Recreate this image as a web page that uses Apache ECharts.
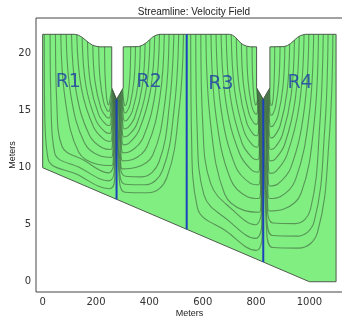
<!DOCTYPE html>
<html><head><meta charset="utf-8">
<script src="https://cdn.jsdelivr.net/npm/echarts@6/dist/echarts.min.js"></script>
<style>html,body{margin:0;padding:0;background:#fff}#c{width:342px;height:317px}</style>
</head><body><div id="c"></div>
<script>
const xTicks = [0, 200, 400, 600, 800, 1000];
const yTicks = [0, 5, 10, 15, 20];

const domainOutline = [
  [0,10],[0,21.7],[120,21.7],[135,21.62],[150,21.4],[163,21.15],[175,20.92],[187,20.75],[200,20.65],[215,20.6],
  [259,20.6],[259,17.0],[277,16.0],[302,17.0],[302,20.6],
  [360,20.62],[375,20.75],[388,20.95],[400,21.2],[412,21.45],[425,21.62],[440,21.7],
  [700,21.7],[712,21.62],[722,21.45],[732,21.2],[742,20.95],[752,20.78],[765,20.66],[780,20.6],
  [802,20.6],[802,17.0],[827,16.0],[852,17.0],[852,20.6],
  [905,20.62],[918,20.72],[930,20.9],[942,21.15],[955,21.42],[968,21.6],[985,21.7],
  [1100,21.7],[1100,0],[1000,0]
];

const drainX = [277, 540, 827];
const drainTop = [16.0, 21.7, 16.0];
const drainBottom = [7.23, 4.6, 1.73];

const regionNames = ['R1', 'R2', 'R3', 'R4'];
const regionLabelX = [96, 399, 668, 965];
const regionLabelY = [17.55, 17.55, 17.3, 17.4];

const streamR1 = [
  [[6,21.7],[7,16],[20,10.8],[130,9.4],[250,8.15],[270,9.0],[276,16.06]],
  [[28,21.7],[31,15.8],[45,11.3],[140,10.0],[248,8.85],[268.4,9.7],[274.5,16.14]],
  [[48,21.7],[53,15.6],[72,11.9],[155,10.65],[246,9.55],[266.8,10.4],[273,16.22]],
  [[68,21.7],[84.6,15.95],[134.9,11.37],[204.3,10.31],[259.2,10.2],[265.2,11.0],[271.5,16.31]],
  [[88,21.7],[106,16.3],[157.5,12.14],[216.6,11.02],[257.6,10.9],[263.6,11.7],[270,16.39]],
  [[108,21.7],[125.8,16.65],[175.3,12.85],[225.2,11.73],[256,11.6],[262,12.4],[268.5,16.47]],
  [[128,21.65],[144.9,17.0],[191.2,13.55],[232.4,12.44],[254.4,12.3],[260.4,13.1],[267,16.56]],
  [[148,21.42],[162,17.21],[200.4,14.13],[234.6,13.13],[252.8,13.0],[258.8,13.75],[265.5,16.64]],
  [[168,21.05],[179.1,17.38],[209.6,14.68],[236.7,13.81],[251.2,13.7],[257.2,14.4],[264,16.72]],
  [[188,20.75],[196.3,17.55],[218.8,15.21],[238.9,14.45],[249.6,14.35],[255.6,15.0],[262.5,16.81]],
  [[210,20.62],[215.1,17.79],[229,15.71],[241.4,15.03],[248,14.95],[254,15.5],[261,16.89]],
  [[232,20.6],[234,18.05],[239.5,16.18],[244.4,15.58],[247,15.5],[252.4,16.0],[259.5,16.97]]
];

const streamR2 = [
  [[528,21.7],[512,15.2],[465,9.1],[395,7.8],[308,7.85],[288,8.8],[278,16.04]],
  [[510,21.7],[494,15.4],[450,9.8],[383,8.5],[309,8.55],[289.5,9.4],[280,16.12]],
  [[492,21.7],[476,15.7],[436,10.5],[372,9.2],[310,9.25],[291,10.1],[282,16.2]],
  [[474,21.7],[458.7,15.8],[412.4,11.1],[348.5,10.02],[298,9.9],[292,10.7],[284,16.28]],
  [[456,21.7],[439.4,16.15],[391.8,11.88],[337.4,10.72],[299.5,10.6],[293.5,11.4],[286,16.36]],
  [[438,21.69],[421.6,16.5],[375.7,12.59],[329.5,11.44],[301,11.3],[295,12.1],[288,16.44]],
  [[420,21.56],[404.3,16.78],[361.2,13.28],[323,12.14],[302.5,12.0],[296.5,12.8],[290,16.52]],
  [[402,21.24],[388.9,16.97],[353,13.84],[321,12.83],[304,12.7],[298,13.45],[292,16.6]],
  [[384,20.89],[373.5,17.15],[344.8,14.4],[319.2,13.51],[305.5,13.4],[299.5,14.1],[294,16.68]],
  [[366,20.67],[358.1,17.39],[336.5,14.98],[317.3,14.2],[307,14.1],[301,14.75],[296,16.76]],
  [[348,20.61],[342.6,17.71],[328,15.58],[315,14.89],[308,14.8],[302,15.35],[298,16.84]],
  [[330,20.6],[327.2,18.03],[319.5,16.14],[312.7,15.53],[309,15.45],[303.5,15.9],[300,16.92]]
];

const streamR3 = [
  [[555,21.7],[558,13],[580,6.5],[690,4.4],[800,2.75],[823,4.0],[826,16.04]],
  [[574,21.7],[579,13.5],[605,7.6],[700,5.3],[798,3.8],[821.5,5.0],[824,16.12]],
  [[593,21.7],[600,14],[630,8.6],[712,6.3],[797,5.0],[820,6.2],[822,16.2]],
  [[612,21.7],[629.4,13.9],[682.2,7.7],[755,6.26],[812.5,6.1],[818.5,7.0],[820,16.28]],
  [[631,21.7],[650.1,14.5],[704.8,8.96],[767.4,7.46],[811,7.3],[817,8.2],[818,16.36]],
  [[650,21.7],[669.1,15.1],[722.6,10.14],[776.3,8.67],[809.5,8.5],[815.5,9.4],[816,16.44]],
  [[669,21.7],[687.6,15.65],[738.5,11.22],[783.8,9.78],[808,9.6],[814,10.5],[814,16.52]],
  [[688,21.7],[703.9,16.2],[747.3,12.17],[785.9,10.87],[806.5,10.7],[812.5,11.5],[812,16.6]],
  [[707,21.66],[720.1,16.73],[756,13.12],[788,11.95],[805,11.8],[811,12.6],[810,16.68]],
  [[726,21.35],[736.4,17.08],[764.8,13.95],[790,12.93],[803.5,12.8],[809.5,13.55],[808,16.76]],
  [[745,20.9],[752.6,17.35],[773.5,14.75],[792.1,13.91],[802,13.8],[808,14.45],[806,16.84]],
  [[765,20.66],[769.8,17.68],[782.8,15.5],[794.3,14.79],[800.5,14.7],[806.5,15.25],[804,16.92]],
  [[785,20.6],[786.9,18.05],[792,16.18],[796.6,15.58],[799,15.5],[805,15.95],[802.5,16.98]]
];

const streamR4 = [
  [[1088,21.7],[1074,12.5],[1030,4.3],[960,2.95],[862,3.0],[840,4.3],[828,16.04]],
  [[1070,21.7],[1057,13.2],[1018,5.3],[955,4.0],[862,4.05],[841,5.3],[830,16.12]],
  [[1052,21.7],[1039,13.8],[1004,6.35],[948,5.1],[863,5.15],[842,6.4],[832,16.2]],
  [[1034,21.7],[1017.9,13.95],[969.2,7.78],[902.1,6.35],[849,6.2],[843,7.1],[834,16.28]],
  [[1016,21.7],[998.4,14.5],[947.9,8.96],[890.2,7.46],[850,7.3],[844,8.2],[836,16.36]],
  [[998,21.7],[980.4,15.05],[931.1,10.05],[881.6,8.57],[851,8.4],[845,9.3],[838,16.44]],
  [[980,21.68],[962.8,15.59],[916,11.13],[874.3,9.68],[852,9.5],[846,10.4],[840,16.52]],
  [[962,21.52],[947.4,16.06],[907.5,12.06],[872,10.76],[853,10.6],[847,11.45],[842,16.6]],
  [[944,21.19],[931.9,16.4],[899,12.89],[869.7,11.74],[854,11.6],[848,12.4],[844,16.68]],
  [[926,20.84],[916.5,16.72],[890.5,13.7],[867.4,12.72],[855,12.6],[849,13.35],[846,16.76]],
  [[908,20.64],[901,17.12],[882,14.54],[865,13.71],[856,13.6],[850,14.25],[848,16.84]],
  [[890,20.62],[885.6,17.61],[873.5,15.41],[862.7,14.69],[857,14.6],[851,15.15],[850,16.92]],
  [[870,20.6],[868.5,18.03],[864.3,16.14],[860.5,15.53],[858.5,15.45],[852.5,15.9],[851.5,16.98]]
];

const chart = echarts.init(document.getElementById('c'), null, {renderer: 'canvas'});

const series = [];
series.push({
  type: 'custom',
  silent: true,
  z: 1,
  data: [[0, 10]],
  renderItem: function (params, api) {
    return {
      type: 'polygon',
      shape: { points: domainOutline.map(p => api.coord(p)) },
      style: { fill: '#80ee80', stroke: '#4f5c4f', lineWidth: 1 }
    };
  }
});

[streamR1, streamR2, streamR3, streamR4].forEach(region => {
  region.forEach(line => {
    series.push({
      type: 'line', data: line, smooth: 0.4, symbol: 'none', silent: true, z: 2,
      lineStyle: { color: 'rgba(60,92,60,0.6)', width: 1.1 }
    });
  });
});

drainX.forEach((x, i) => {
  series.push({
    type: 'line', data: [[x, drainTop[i]], [x, drainBottom[i]]], symbol: 'none', silent: true, z: 3,
    lineStyle: { color: '#1c42bc', width: 2 }
  });
});

series.push({
  type: 'scatter', z: 4, silent: true, symbolSize: 0, itemStyle: { color: 'rgba(0,0,0,0)' },
  data: regionNames.map((n, i) => ({ name: n, value: [regionLabelX[i], regionLabelY[i]] })),
  label: {
    show: true, position: 'inside', formatter: '{b}',
    fontSize: 19, fontFamily: 'DejaVu Sans', color: '#1d3ca8'
  }
});

chart.setOption({
  animation: false,
  title: {
    text: 'Streamline: Velocity Field', left: 189, top: 2, textAlign: 'center',
    textStyle: { fontSize: 10, fontWeight: 'normal', fontFamily: 'Liberation Sans', color: '#222' }
  },
  grid: { left: 36, right: -1, top: 18, bottom: 25, show: true, borderColor: '#444', borderWidth: 1,
          backgroundColor: 'transparent', outerBoundsMode: 'none', containLabel: false },
  xAxis: {
    type: 'value', min: -25, max: 1126,
    name: 'Meters', nameLocation: 'middle', nameGap: 17, nameMoveOverlap: false,
    nameTextStyle: { fontSize: 9, fontFamily: 'Liberation Sans', color: '#222' },
    axisLine: { show: false }, axisTick: { show: false }, splitLine: { show: false },
    axisLabel: { customValues: xTicks, formatter: v => String(v), fontSize: 10, fontFamily: 'DejaVu Sans', color: '#333', margin: 5 }
  },
  yAxis: {
    type: 'value', min: -0.9, max: 23.13,
    name: 'Meters', nameLocation: 'middle', nameGap: 19, nameMoveOverlap: false,
    nameTextStyle: { fontSize: 9, fontFamily: 'Liberation Sans', color: '#222' },
    axisLine: { show: false }, axisTick: { show: false }, splitLine: { show: false },
    axisLabel: { customValues: yTicks, formatter: v => String(v), fontSize: 10, fontFamily: 'DejaVu Sans', color: '#333', margin: 5 }
  },
  series: series
});
</script></body></html>
